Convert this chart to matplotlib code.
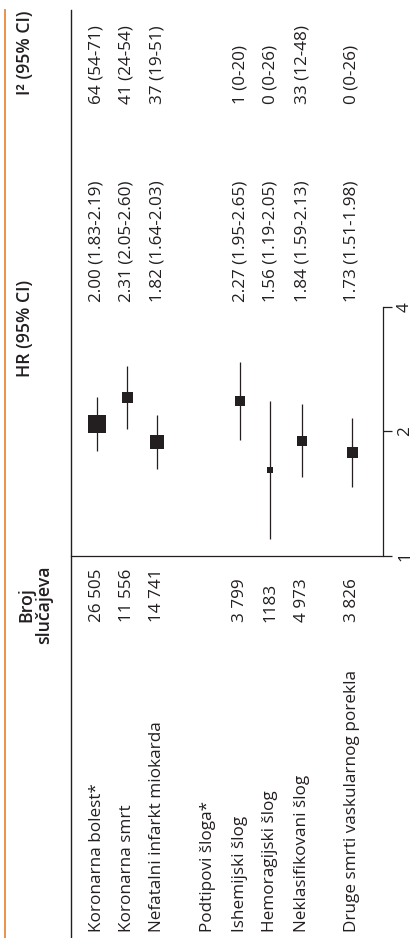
import numpy as np
import matplotlib
matplotlib.use("Agg")
from matplotlib import pyplot as plt

plt.rcParams['font.family'] = ['Open Sans', 'DejaVu Sans']

# outcome rows (top to bottom of the original table)
labels = ["Koronarna bolest*", "Koronarna smrt", "Nefatalni infarkt miokarda",
          "Podtipovi šloga*", "Ishemijski šlog", "Hemoragijski šlog",
          "Neklasifikovani šlog", "Druge smrti vaskularnog porekla"]
cases = ["26 505", "11 556", "14 741", "", "3 799", "1183", "4 973", "3 826"]
hrText = ["2.00 (1.83-2.19)", "2.31 (2.05-2.60)", "1.82 (1.64-2.03)", "",
          "2.27 (1.95-2.65)", "1.56 (1.19-2.05)", "1.84 (1.59-2.13)",
          "1.73 (1.51-1.98)"]
i2Text = ["64 (54-71)", "41 (24-54)", "37 (19-51)", "",
          "1 (0-20)", "0 (0-26)", "33 (12-48)", "0 (0-26)"]

# hazard ratios as drawn in the picture (point, lower, upper)
hrPoint = [2.08, 2.42, 1.88, np.nan, 2.37, 1.61, 1.90, 1.78]
hrLow = [1.79, 2.03, 1.62, np.nan, 1.91, 1.10, 1.55, 1.47]
hrHigh = [2.42, 2.88, 2.19, np.nan, 2.94, 2.37, 2.33, 2.16]
# relative box size (weight) of each estimate
boxWeight = [18, 11, 14, np.nan, 10, 5.5, 10, 11]

hrTicks = [1, 2, 4]

# layout, everything in pixels of the 413x938 picture
W, H = 413, 938
rowSlot = [0, 1, 2, 3.7, 4.75, 5.75, 6.8, 8.45]
rowX = [96.7 + 30.2 * s for s in rowSlot]
ink = "#231f20"
orange = "#e8893c"
sepX = 70.7
axisX = 382.5
hrTop, hrBottom = 306.7, 556.0
fs = 12.3

fig = plt.figure(figsize=(W / 100, H / 100), dpi=100)

# canvas axes in pixel coordinates for the table text and rules
canvas = fig.add_axes([0, 0, 1, 1])
canvas.set_xlim(0, W)
canvas.set_ylim(H, 0)
canvas.axis("off")

canvas.plot([5, 5], [10, H], color=orange, lw=1.3)
canvas.plot([sepX, sepX], [10, H], color=ink, lw=1.0)

# headers
canvas.text(35, 605, "Broj\nslučajeva", rotation=90, ha="center", va="center",
            multialignment="center", fontsize=12.8, color=ink,
            linespacing=1.0, fontweight="semibold")
canvas.text(25, 377, "HR (95% CI)", rotation=90, ha="center", va="bottom",
            fontsize=12.8, color=ink, fontweight="semibold")
canvas.text(25, 95, "I² (95% CI)", rotation=90, ha="center", va="bottom",
            fontsize=12.8, color=ink, fontweight="semibold")

# table text
for x, lab, n, hr, i2 in zip(rowX, labels, cases, hrText, i2Text):
    canvas.text(x, 932, lab, rotation=90, ha="center", va="bottom",
                fontsize=fs, color=ink)
    canvas.text(x, 622, n, rotation=90, ha="center", va="bottom",
                fontsize=fs, color=ink)
    canvas.text(x, 302, hr, rotation=90, ha="center", va="bottom",
                fontsize=fs, color=ink)
    canvas.text(x, 104, i2, rotation=90, ha="center", va="bottom",
                fontsize=fs, color=ink)

# forest plot axes: rows run along x, HR (log) along y
ax = fig.add_axes([sepX / W, (H - hrBottom) / H,
                   (axisX - sepX) / W, (hrBottom - hrTop) / H])
ax.set_xlim(sepX, axisX)
ax.set_yscale("log", base=2)
ax.set_ylim(1, 4)
ax.patch.set_alpha(0)
for x, p, lo, hi, w in zip(rowX, hrPoint, hrLow, hrHigh, boxWeight):
    if np.isnan(p):
        continue
    ax.plot([x, x], [lo, hi], color=ink, lw=0.9, solid_capstyle="butt")
    ax.plot(x, p, marker="s", markersize=w * 0.72, color=ink, mec=ink, mew=0)

ax.spines["top"].set_visible(False)
ax.spines["left"].set_visible(False)
ax.spines["right"].set_color(ink)
ax.spines["bottom"].set_color(ink)
ax.spines["right"].set_linewidth(0.9)
ax.spines["bottom"].set_linewidth(0.9)
ax.set_xticks([])
ax.yaxis.tick_right()
ax.set_yticks(hrTicks)
ax.set_yticklabels([str(t) for t in hrTicks], rotation=90, va="center",
                   fontsize=fs, color=ink)
ax.yaxis.set_minor_locator(matplotlib.ticker.NullLocator())
ax.tick_params(axis="y", direction="out", length=6.5, width=0.9, color=ink, pad=4)

plt.savefig("out.png", dpi=100)
